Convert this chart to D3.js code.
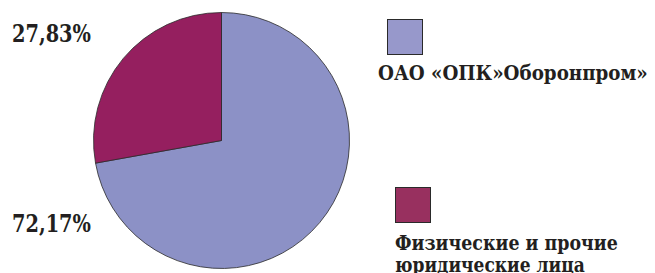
<!DOCTYPE html>
<html>
<head>
<meta charset="utf-8">
<script src="https://cdn.jsdelivr.net/npm/d3@7"></script>
<style>
  html, body { margin: 0; padding: 0; background: #fff; overflow: hidden; }
  text { font-family: "DejaVu Serif", "Liberation Serif", serif; font-weight: bold; fill: #231f20; }
</style>
</head>
<body>
<svg id="chart" width="655" height="273"></svg>
<script>
'use strict';

// Shareholders and their shares, %
const owners = ['ОАО «ОПК»Оборонпром»', 'Физические и прочие юридические лица'];
const shares = [72.17, 27.83];
const shareLabels = ['72,17%', '27,83%'];

const colors = ['#8c91c6', '#951f5f'];
const legendColors = ['#9798cb', '#98305f'];

const svg = d3.select('#chart');

const cx = 221.5, cy = 140.5, radius = 128;

const pie = d3.pie().sort(null).value(d => d);
const arc = d3.arc().innerRadius(0).outerRadius(radius);

svg.append('g')
  .attr('transform', `translate(${cx},${cy})`)
  .selectAll('path')
  .data(pie(shares))
  .join('path')
  .attr('d', arc)
  .attr('fill', (d, i) => colors[i])
  .attr('stroke', '#2a2a2a')
  .attr('stroke-width', 0.8);

// squeeze a text horizontally until it fits the given width
const fitWidth = (sel, w) => sel.each(function() {
  const n = this.getComputedTextLength();
  if (n > w) {
    const x = +this.getAttribute('x'), y = +this.getAttribute('y');
    const k = w / n;
    this.setAttribute('transform', `translate(${x},${y}) scale(${k},1) translate(${-x},${-y})`);
  }
});

// Percent labels on the left
const labelPos = [
  { x: 12, y: 232, w: 79 },   // 72,17%
  { x: 12, y: 42.5, w: 79 }   // 27,83%
];
svg.selectAll('text.pct')
  .data(shareLabels)
  .join('text')
  .attr('class', 'pct')
  .attr('x', (d, i) => labelPos[i].x)
  .attr('y', (d, i) => labelPos[i].y)
  .attr('font-size', 24)
  .text(d => d)
  .each(function(d, i) { fitWidth(d3.select(this), labelPos[i].w); });

// Legend
const legend = [
  { sx: 387.5, sy: 19.5, lines: [owners[0]], tx: 378, ty: 80, widths: [270] },
  { sx: 395.5, sy: 187.5, lines: ['Физические и прочие', 'юридические лица'], tx: 395, ty: 250, widths: [223, 190] }
];

legend.forEach((l, i) => {
  svg.append('rect')
    .attr('x', l.sx).attr('y', l.sy)
    .attr('width', 35).attr('height', 35)
    .attr('fill', legendColors[i])
    .attr('stroke', '#2a2a2a')
    .attr('stroke-width', 1);
  l.lines.forEach((t, j) => {
    svg.append('text')
      .attr('x', l.tx)
      .attr('y', l.ty + j * 22)
      .attr('font-size', 20)
      .text(t)
      .call(fitWidth, l.widths[j]);
  });
});
</script>
</body>
</html>
